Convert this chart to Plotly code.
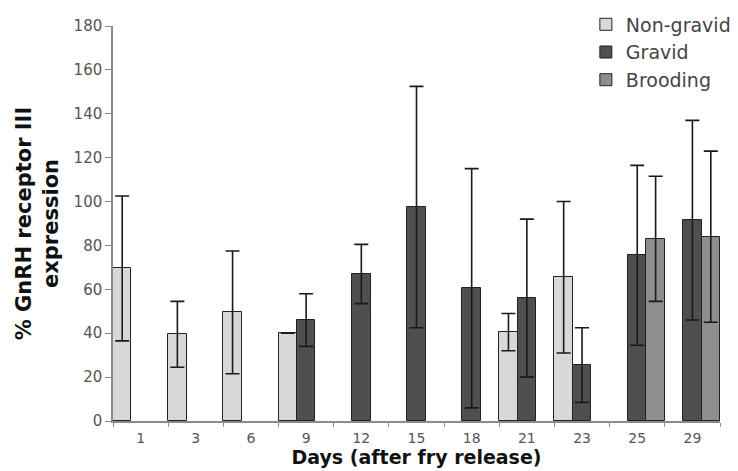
import plotly.graph_objects as go

# Days after fry release
days = ["1", "3", "6", "9", "12", "15", "18", "21", "23", "25", "29"]

# Mean % GnRH receptor III expression and SD for each group
non_gravid = [69.5, 39.5, 49.5, 40, None, None, None, 40.5, 65.5, None, None]
non_gravid_err = [33, 15, 28, None, None, None, None, 8.5, 34.5, None, None]

gravid = [None, None, None, 46, 67, 97.5, 60.5, 56, 25.5, 75.5, 91.5]
gravid_err = [None, None, None, 12, 13.5, 55, 54.5, 36, 17, 41, 45.5]

brooding = [None, None, None, None, None, None, None, None, None, 83, 84]
brooding_err = [None, None, None, None, None, None, None, None, None, 28.5, 39]

series = [
    ("Non-gravid", non_gravid, non_gravid_err, "#d8d8d8"),
    ("Gravid", gravid, gravid_err, "#4f4f4f"),
    ("Brooding", brooding, brooding_err, "#8e8e8e"),
]

fig = go.Figure()
for name, vals, errs, color in series:
    fig.add_trace(go.Bar(
        x=days, y=vals, name=name,
        marker=dict(color=color, line=dict(color="#222222", width=1)),
        error_y=dict(type="data", array=errs, symmetric=True, visible=True,
                     color="#1a1a1a", thickness=1.6, width=7),
    ))

font_family = "DejaVu Sans, Verdana, sans-serif"

fig.update_layout(
    width=738, height=471,
    margin=dict(l=113, r=18, t=26, b=50, autoexpand=False),
    paper_bgcolor="white", plot_bgcolor="white",
    barmode="group", bargap=0, bargroupgap=0,
    showlegend=True,
    legend=dict(
        x=0.779, y=1.052, xanchor="left", yanchor="top",
        font=dict(family=font_family, size=19, color="#444444"),
        bgcolor="rgba(0,0,0,0)", traceorder="normal",
        itemwidth=30,
    ),
    xaxis=dict(
        type="category", tickson="boundaries", automargin=False,
        showline=True, linecolor="#8a8a8a", linewidth=1.5,
        ticks="outside", ticklen=4, tickcolor="#8a8a8a",
        tickfont=dict(family=font_family, size=14, color="#555555"),
        ticklabelstandoff=3,
        showgrid=False,
        title=dict(text="<b>Days (after fry release)</b>",
                   font=dict(family=font_family, size=19, color="#111111"),
                   standoff=4),
    ),
    yaxis=dict(
        range=[0, 180], dtick=20, automargin=False,
        showline=True, linecolor="#8a8a8a", linewidth=1.5,
        ticks="outside", ticklen=6, tickcolor="#8a8a8a",
        tickfont=dict(family=font_family, size=15, color="#555555"),
        showgrid=False, zeroline=False,
        title=dict(text="<b>% GnRH receptor III<br>expression</b>",
                   font=dict(family=font_family, size=21, color="#111111"),
                   standoff=9),
    ),
)

fig.write_html("out.html")
